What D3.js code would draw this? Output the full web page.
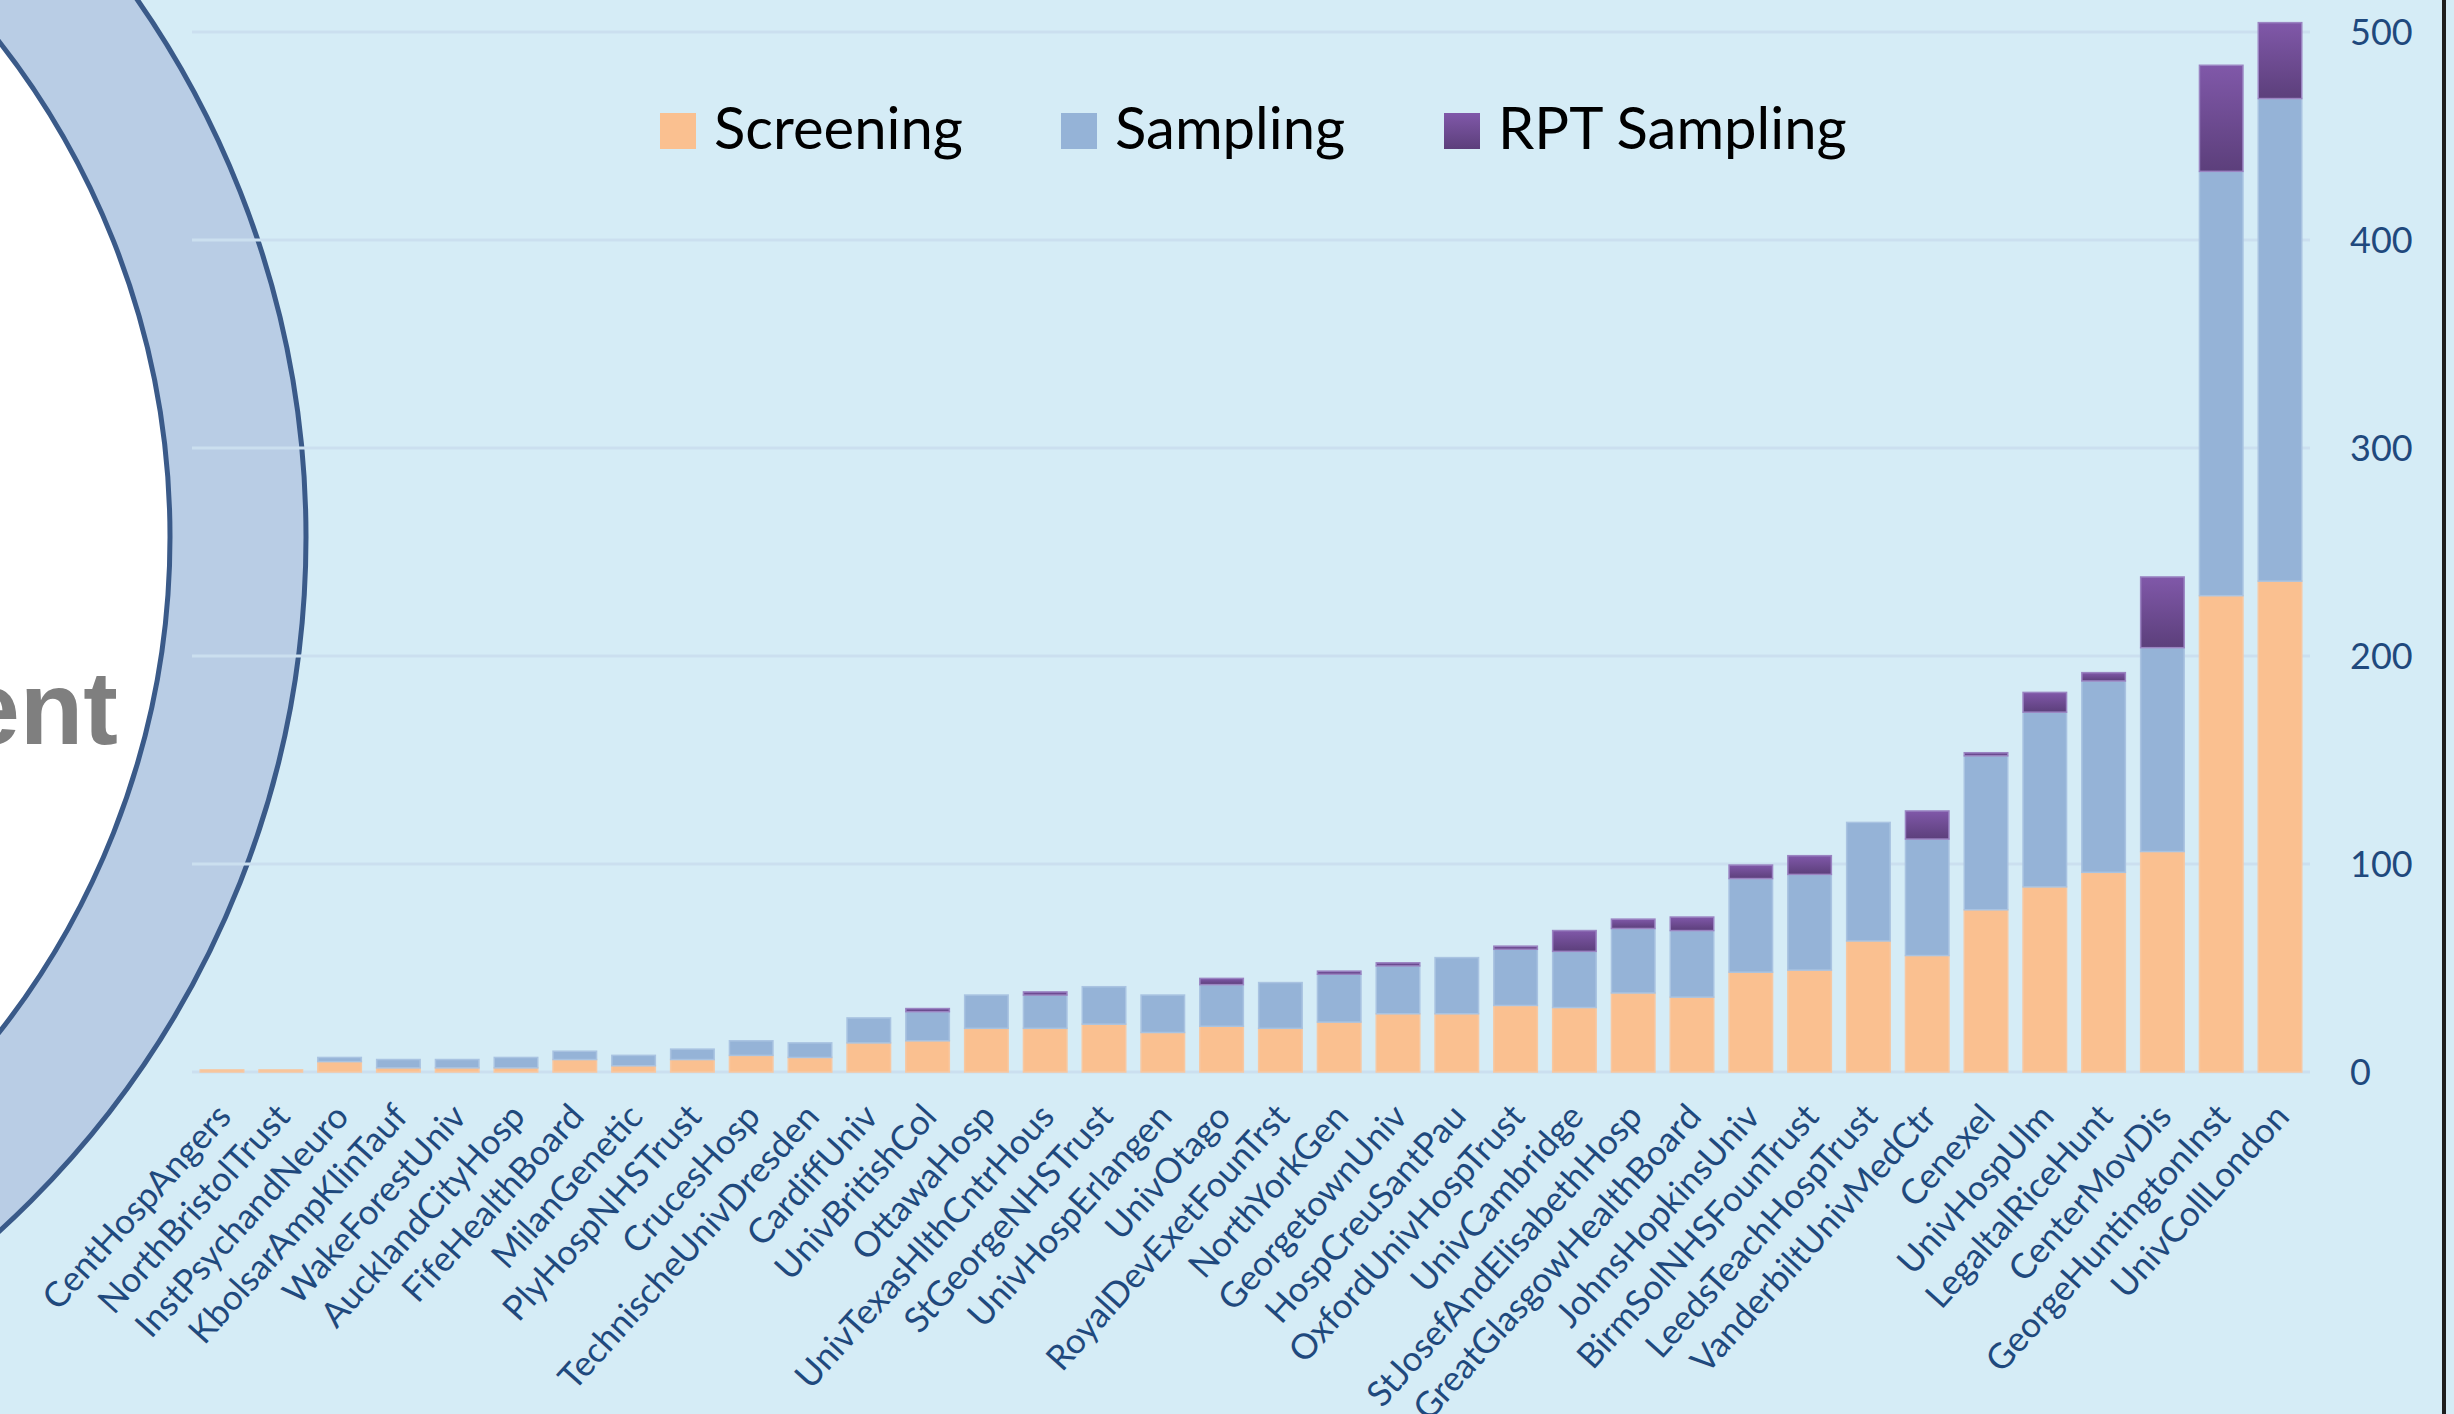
<!DOCTYPE html>
<html>
<head>
<meta charset="utf-8">
<script src="https://cdn.jsdelivr.net/npm/d3@7"></script>
<style>
  body { margin: 0; background: #d5ecf6; }
  svg { display: block; }
</style>
</head>
<body>
<div id="chart"></div>
<script>
// size of the page
var width = 2454;
var height = 1414;

// sites, in the order they are drawn
var sites = ["CentHospAngers", "NorthBristolTrust", "InstPsychandNeuro", "KbolsarAmpKlinTauf",
	"WakeForestUniv", "AucklandCityHosp", "FifeHealthBoard", "MilanGenetic", "PlyHospNHSTrust",
	"CrucesHosp", "TechnischeUnivDresden", "CardiffUniv", "UnivBritishCol", "OttawaHosp",
	"UnivTexasHlthCntrHous", "StGeorgeNHSTrust", "UnivHospErlangen", "UnivOtago",
	"RoyalDevExetFounTrst", "NorthYorkGen", "GeorgetownUniv", "HospCreuSantPau",
	"OxfordUnivHospTrust", "UnivCambridge", "StJosefAndElisabethHosp", "GreatGlasgowHealthBoard",
	"JohnsHopkinsUniv", "BirmSolNHSFounTrust", "LeedsTeachHospTrust", "VanderbiltUnivMedCtr",
	"Cenexel", "UnivHospUlm", "LegaltalRiceHunt", "CenterMovDis", "GeorgeHuntingtonInst",
	"UnivCollLondon"];

// series values (stacked in this order)
var screening = [1, 1, 5, 2, 2, 2, 6, 3, 6, 8, 7, 14, 15, 21, 21, 23, 19, 22, 21, 24,
	28, 28, 32, 31, 38, 36, 48, 49, 63, 56, 78, 89, 96, 106, 229, 236];
var sampling = [0, 0, 2, 4, 4, 5, 4, 5, 5, 7, 7, 12, 14, 16, 16, 18, 18, 20, 22, 23,
	23, 27, 27, 27, 31, 32, 45, 46, 57, 56, 74, 84, 92, 98, 204, 232];
var rptSampling = [0, 0, 0, 0, 0, 0, 0, 0, 0, 0, 0, 0, 1.5, 0, 1.5, 0, 0, 3, 0, 1.5,
	1.5, 0, 1.5, 10, 4.5, 6.5, 6.5, 9, 0, 13.5, 1.5, 9.5, 4, 34, 51, 36.5];

var seriesNames = ["Screening", "Sampling", "RPT Sampling"];
var yTicks = [0, 100, 200, 300, 400, 500];

var labelColor = "#1f497d";

var svg = d3.select("#chart")
	.append("svg")
	.attr("width", width)
	.attr("height", height);

// background
svg.append("rect")
	.attr("width", width)
	.attr("height", height)
	.attr("fill", "#d5ecf6");

// gradient for the RPT segments
var grad = svg.append("defs")
	.append("linearGradient")
	.attr("id", "rptGrad")
	.attr("x1", "0%").attr("y1", "0%")
	.attr("x2", "0%").attr("y2", "100%");
grad.append("stop").attr("offset", "0%").attr("stop-color", "#8058a9");
grad.append("stop").attr("offset", "100%").attr("stop-color", "#5c3f7b");

// ring on the left side of the slide
var ring = svg.append("g");
ring.append("circle")
	.attr("cx", -633).attr("cy", 537).attr("r", 939)
	.attr("fill", "#b9cde5")
	.attr("stroke", "#3a5a89")
	.attr("stroke-width", 5);
ring.append("circle")
	.attr("cx", -633).attr("cy", 537).attr("r", 803)
	.attr("fill", "#ffffff")
	.attr("stroke", "#3a5a89")
	.attr("stroke-width", 5);
ring.append("text")
	.attr("x", 118).attr("y", 744)
	.attr("text-anchor", "end")
	.style("font-family", "'Liberation Sans', Arial, sans-serif")
	.style("font-weight", "bold")
	.style("font-size", "104px")
	.style("fill", "#7f7f7f")
	.text("ent");

// scales
var x = d3.scaleBand()
	.domain(sites)
	.range([192, 2310])
	.paddingInner(0.26)
	.paddingOuter(0.14);

var y = d3.scaleLinear()
	.domain([0, 500])
	.range([1072, 32]);

// gridlines
svg.append("g")
	.selectAll("line")
	.data(yTicks)
	.enter()
	.append("line")
	.attr("x1", 192)
	.attr("x2", 2310)
	.attr("y1", function (d) { return y(d); })
	.attr("y2", function (d) { return y(d); })
	.attr("stroke", "#cbdfef")
	.attr("stroke-width", 3);

// stack the three series
var table = sites.map(function (s, i) {
	return { site: s, "Screening": screening[i], "Sampling": sampling[i], "RPT Sampling": rptSampling[i] };
});
var stacked = d3.stack().keys(seriesNames)(table);

var fills = { "Screening": "#fac090", "Sampling": "#95b3d7", "RPT Sampling": "url(#rptGrad)" };
var edges = { "Screening": "#f7c8a2", "Sampling": "#a9c3e1", "RPT Sampling": "#9a84c2" };

svg.append("g")
	.selectAll("g")
	.data(stacked)
	.enter()
	.append("g")
	.attr("fill", function (d) { return fills[d.key]; })
	.attr("stroke", function (d) { return edges[d.key]; })
	.attr("stroke-width", 1.5)
	.selectAll("rect")
	.data(function (d) { return d.filter(function (p) { return p[1] - p[0] > 0; }); })
	.enter()
	.append("rect")
	.attr("x", function (d) { return x(d.data.site); })
	.attr("width", x.bandwidth())
	.attr("y", function (d) { return y(d[1]); })
	.attr("height", function (d) { return y(d[0]) - y(d[1]); });

// value axis on the right
var yAxis = svg.append("g")
	.attr("transform", "translate(2350,0)")
	.call(d3.axisRight(y).tickValues(yTicks).tickSize(0).tickPadding(0));
yAxis.select(".domain").remove();
yAxis.selectAll("text")
	.attr("dy", "0.35em")
	.style("font-family", "Lato, 'Open Sans', sans-serif")
	.style("font-size", "36px")
	.style("fill", labelColor);

// site labels
var xAxis = svg.append("g")
	.attr("transform", "translate(0," + y(0) + ")")
	.call(d3.axisBottom(x).tickSize(0));
xAxis.select(".domain").remove();
xAxis.selectAll("text")
	.attr("x", 0)
	.attr("y", 0)
	.attr("dy", 0)
	.attr("transform", "translate(11,46) rotate(-48)")
	.attr("text-anchor", "end")
	.style("font-family", "Lato, 'Open Sans', sans-serif")
	.style("font-size", "35px")
	.style("fill", labelColor);

// legend
var legendX = [660, 1061, 1444];
var legend = svg.append("g")
	.selectAll("g")
	.data(seriesNames)
	.enter()
	.append("g")
	.attr("transform", function (d, i) { return "translate(" + legendX[i] + ",113)"; });
legend.append("rect")
	.attr("width", 36)
	.attr("height", 36)
	.attr("fill", function (d) { return fills[d]; });
legend.append("text")
	.attr("x", 54)
	.attr("y", 36)
	.style("font-family", "Lato, 'Open Sans', sans-serif")
	.style("font-size", "58px")
	.style("fill", "#000")
	.text(function (d) { return d; });

// frame line at the right edge
svg.append("rect")
	.attr("x", 2442)
	.attr("y", 0)
	.attr("width", 4)
	.attr("height", height)
	.attr("fill", "#1e1e1e");
</script>
</body>
</html>
